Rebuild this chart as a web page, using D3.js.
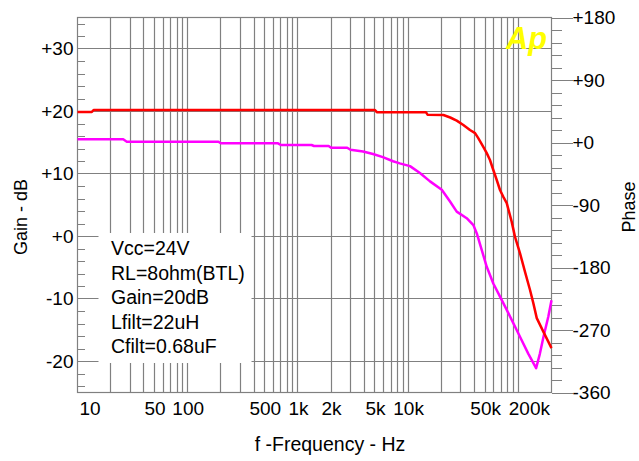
<!DOCTYPE html>
<html>
<head>
<meta charset="utf-8">
<script src="https://cdn.jsdelivr.net/npm/d3@7"></script>
<style>
body { margin: 0; background: #fff; }
text { font-family: "Liberation Sans", Arial, sans-serif; fill: #000; }
</style>
</head>
<body>
<div id="chart-area"></div>
<script>

// Gain (red, left axis)
var gainFreq = [10, 13.5, 14, 5000, 5200, 14500, 15000, 20900, 24100, 27600, 31700, 36400, 40500,
    43300, 48100, 51700, 55300, 59300, 63700, 68200, 73100, 78500, 87100, 93300, 103500, 115000,
    127700, 136800, 147000, 169000, 200000];
var gainDb = [19.9, 19.9, 20.2, 20.2, 19.85, 19.85, 19.45, 19.4, 19.0, 18.5, 17.8, 17.0, 16.5,
    15.7, 14.3, 13.3, 12.2, 10.6, 9.0, 7.4, 6.3, 5.3, 2.3, -0.1, -2.7, -5.7,
    -8.6, -10.7, -13.1, -15.3, -17.9];

// Phase (magenta, right axis)
var phaseFreq = [10, 26, 28, 190, 200, 660, 700, 1330, 1400, 1900, 2000, 2800, 3000, 3900, 4800,
    5900, 7300, 8400, 10400, 12800, 15800, 20200, 24000, 27600, 34000, 39100, 42000, 46600, 51700,
    59300, 68200, 78500, 96600, 123000, 145000, 157000, 169000, 187000, 200000];
var phaseDeg = [4.6, 4.6, 1.2, 1.2, -1.2, -1.2, -3.6, -3.6, -5.0, -5.0, -7.5, -7.5, -10.5, -13, -16.5,
    -21, -27, -30, -34, -44, -56, -68, -85, -99.6, -109, -119, -131, -155, -179,
    -203, -222, -241, -270, -304, -325, -304, -280, -251, -227];

// Tick labels
var gainTicks = [-20, -10, 0, 10, 20, 30];
var phaseTicks = [-360, -270, -180, -90, 0, 90, 180];
var freqLabels = [10, 50, 100, 500, 1000, 2000, 5000, 10000, 50000, 200000];

var legendLines = ["Vcc=24V", "RL=8ohm(BTL)", "Gain=20dB", "Lfilt=22uH", "Cfilt=0.68uF"];

var W = 639, H = 461;
var plotL = 77.5, plotR = 551.5, plotT = 17.5, plotB = 392.5;
var gridColor = "#808080";

var svg = d3.select("#chart-area").append("svg")
    .attr("width", W)
    .attr("height", H);

// Scales
var x = d3.scaleLog().domain([10, 200000]).range([plotL, plotR]);
var yGain = d3.scaleLinear().domain([-25, 35]).range([plotB, plotT]);
var yPhase = d3.scaleLinear().domain([-360, 180]).range([plotB, plotT]);

var crisp = function(v){ return Math.round(v - 0.5) + 0.5; };

// Grid
var grid = svg.append("g").attr("stroke", gridColor).attr("stroke-width", 1.2);

grid.selectAll(".vgrid")
    .data(x.ticks().filter(function(d){ return d > 10 && d < 200000; }))
    .enter().append("line")
    .attr("x1", function(d){ return crisp(x(d)); })
    .attr("x2", function(d){ return crisp(x(d)); })
    .attr("y1", plotT)
    .attr("y2", plotB);

grid.selectAll(".hgrid")
    .data(gainTicks)
    .enter().append("line")
    .attr("x1", plotL)
    .attr("x2", plotR)
    .attr("y1", function(d){ return crisp(yGain(d)); })
    .attr("y2", function(d){ return crisp(yGain(d)); });

// Frame
svg.append("rect")
    .attr("x", plotL)
    .attr("y", plotT)
    .attr("width", plotR - plotL)
    .attr("height", plotB - plotT)
    .attr("fill", "none")
    .attr("stroke", gridColor)
    .attr("stroke-width", 1.2);

// Minor ticks, left axis (inside)
var gainMinor = d3.range(-24, 35, 2).filter(function(d){ return d % 10 !== 0; });
svg.append("g")
    .attr("transform", "translate(" + plotL + ",0)")
    .call(d3.axisRight(yGain).tickValues(gainMinor).tickSize(7).tickFormat(""));

// Left labels
svg.append("g")
    .attr("transform", "translate(" + plotL + ",0)")
    .call(d3.axisLeft(yGain).tickValues(gainTicks).tickSize(0).tickPadding(4)
        .tickFormat(function(d){ return (d >= 0 ? "+" : "") + d; }));

// Right axis: minor ticks and major ticks with labels
var phaseMinor = d3.range(-342, 180, 18).filter(function(d){ return d % 90 !== 0; });
svg.append("g")
    .attr("transform", "translate(" + plotR + ",0)")
    .call(d3.axisRight(yPhase).tickValues(phaseMinor).tickSize(10).tickFormat(""));

svg.append("g")
    .attr("transform", "translate(" + plotR + ",0)")
    .call(d3.axisRight(yPhase).tickValues(phaseTicks).tickSize(21).tickPadding(0)
        .tickFormat(function(d){ return (d >= 0 ? "+" : "") + d; }));

// Bottom labels
var bottomLabels = svg.append("g")
    .attr("transform", "translate(0," + plotB + ")")
    .call(d3.axisBottom(x).tickValues(freqLabels).tickSize(0).tickPadding(9)
        .tickFormat(function(d){ return d >= 1000 ? (d / 1000) + "k" : d; }));

bottomLabels.selectAll("text")
    .attr("text-anchor", function(d){
        if (d === 10) return "start";
        if (d === 200000) return "end";
        return "middle";
    })
    .attr("dx", function(d){
        if (d === 10) return 1.5;
        if (d === 200000) return -2;
        return 0;
    });

// Axis styling
svg.selectAll(".domain").remove();
svg.selectAll(".tick line").attr("stroke", gridColor).attr("shape-rendering", "crispEdges");
svg.selectAll(".tick text")
    .attr("font-size", "19px")
    .attr("font-family", "'Liberation Sans', Arial, sans-serif")
    .attr("fill", "#000");

// Legend box
svg.append("rect")
    .attr("x", 98.5)
    .attr("y", 233)
    .attr("width", 153)
    .attr("height", 130)
    .attr("fill", "#fff");

svg.selectAll(".legend-text")
    .data(legendLines)
    .enter().append("text")
    .attr("class", "legend-text")
    .attr("x", 111)
    .attr("y", function(d, i){ return 255 + i * 24.5; })
    .attr("font-size", "19.5px")
    .text(function(d){ return d; });

// Ap logo
svg.append("text")
    .attr("x", 506)
    .attr("y", 49)
    .attr("font-size", "32px")
    .attr("font-weight", "bold")
    .attr("font-style", "italic")
    .attr("textLength", 41)
    .attr("lengthAdjust", "spacingAndGlyphs")
    .style("fill", "#ffff00")
    .text("Ap");

// Curves
var gainLine = d3.line()
    .x(function(d){ return x(d[0]); })
    .y(function(d){ return yGain(d[1]); });

var phaseLine = d3.line()
    .x(function(d){ return x(d[0]); })
    .y(function(d){ return yPhase(d[1]); });

svg.append("path")
    .attr("fill", "none")
    .attr("stroke", "#ff00ff")
    .attr("stroke-width", 2.5)
    .attr("stroke-linejoin", "round")
    .attr("d", phaseLine(d3.zip(phaseFreq, phaseDeg)));

svg.append("path")
    .attr("fill", "none")
    .attr("stroke", "#ff0000")
    .attr("stroke-width", 2.5)
    .attr("stroke-linejoin", "round")
    .attr("d", gainLine(d3.zip(gainFreq, gainDb)));

// Axis titles
svg.append("text")
    .attr("transform", "translate(27,217) rotate(-90)")
    .attr("text-anchor", "middle")
    .attr("font-size", "18px")
    .text("Gain - dB");

svg.append("text")
    .attr("transform", "translate(635,207) rotate(-90)")
    .attr("text-anchor", "middle")
    .attr("font-size", "18px")
    .text("Phase");

svg.append("text")
    .attr("x", 330)
    .attr("y", 451)
    .attr("text-anchor", "middle")
    .attr("font-size", "19.5px")
    .text("f -Frequency - Hz");

</script>
</body>
</html>
